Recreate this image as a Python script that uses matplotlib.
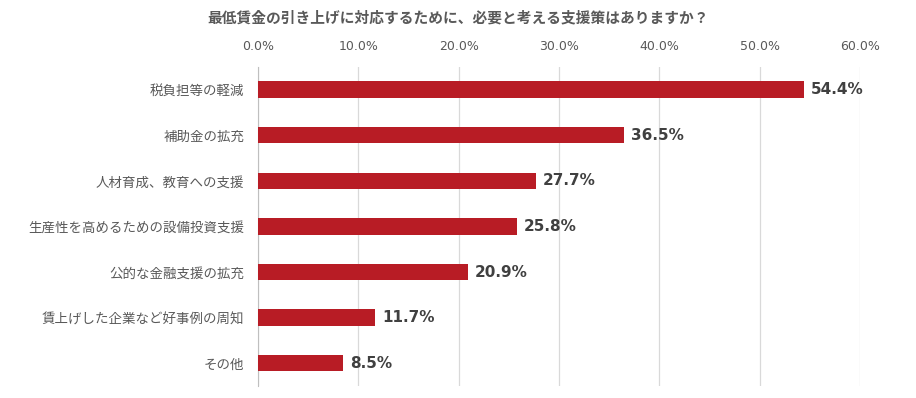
import matplotlib
matplotlib.use("Agg")
import matplotlib.pyplot as plt
from matplotlib.ticker import FuncFormatter

plt.rcParams['font.family'] = ['Noto Sans CJK JP', 'DejaVu Sans']

categories = ["税負担等の軽減", "補助金の拡充", "人材育成、教育への支援",
              "生産性を高めるための設備投資支援", "公的な金融支援の拡充",
              "賃上げした企業など好事例の周知", "その他"]
values = [54.4, 36.5, 27.7, 25.8, 20.9, 11.7, 8.5]
xticks = [0, 10, 20, 30, 40, 50, 60]

fig = plt.figure(figsize=(9.16, 3.98), dpi=100)
ax = fig.add_axes([0.2817, 0.030, 0.657, 0.802])

ypos = list(range(len(categories)))
ax.barh(ypos, values, height=0.36, color="#B81C25", zorder=3)
for y, v in zip(ypos, values):
    ax.text(v + 0.7, y, f"{v:.1f}%", va="center", ha="left",
            fontsize=11, fontweight="bold", color="#404040",
            family=['DejaVu Sans'])

ax.set_ylim(len(categories) - 0.5, -0.5)
ax.set_xlim(0, 60)
ax.set_yticks(ypos)
ax.set_yticklabels(categories, fontsize=9.7, color="#595959")
ax.set_xticks(xticks)
ax.xaxis.set_major_formatter(FuncFormatter(lambda x, p: f"{x:.1f}%"))
ax.xaxis.tick_top()
ax.tick_params(axis="x", labelsize=9, colors="#595959", length=0, pad=10)
ax.tick_params(axis="y", length=0, pad=10)
for lab in ax.get_xticklabels():
    lab.set_family(['DejaVu Sans'])
ax.grid(axis="x", color="#d9d9d9", linewidth=0.9, zorder=0)
for s in ["top", "right", "bottom"]:
    ax.spines[s].set_visible(False)
ax.spines["left"].set_color("#bfbfbf")

fig.text(0.5, 0.955, "最低賃金の引き上げに対応するために、必要と考える支援策はありますか？",
         ha="center", va="center", fontsize=10.6, fontweight="bold", color="#595959")

fig.savefig("out.png", dpi=100)
